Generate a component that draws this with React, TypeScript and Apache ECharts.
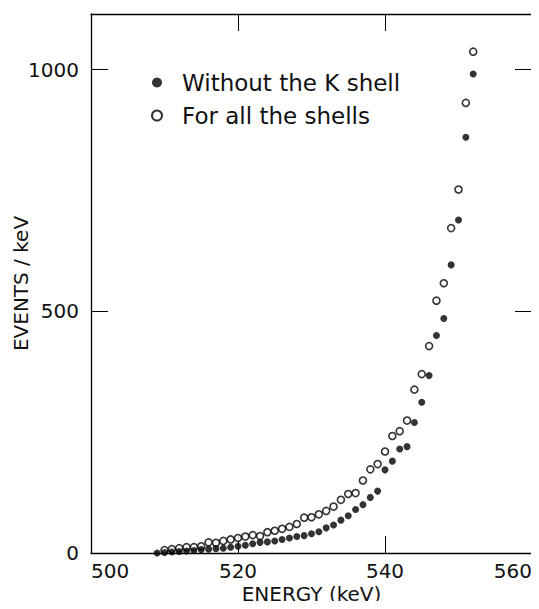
import React, { useEffect, useRef } from "react";
import * as echarts from "echarts";

// Energy (keV) of each point
const energyFilled = [
  509, 510, 511, 512, 513, 514, 515, 516, 517, 518, 519, 520, 521, 522, 523,
  524, 525, 526, 527, 528, 529, 530, 531, 532, 533, 534, 535, 536, 537, 538,
  539, 540, 541, 542, 543, 544, 545, 546, 547, 548, 549, 550, 551, 552,
];
// Without the K shell (events / keV)
const withoutK = [
  0, 1, 2, 3, 4, 5, 7, 8, 9, 10, 12, 14, 16, 19, 22, 23, 25, 28, 31, 34, 36,
  40, 44, 52, 58, 68, 77, 90, 100, 115, 128, 172, 190, 215, 220, 270, 312, 367,
  450, 485, 596, 689, 860, 991,
];

const energyOpen = [
  510, 511, 512, 513, 514, 515, 516, 517, 518, 519, 520, 521, 522, 523, 524,
  525, 526, 527, 528, 529, 530, 531, 532, 533, 534, 535, 536, 537, 538, 539,
  540, 541, 542, 543, 544, 545, 546, 547, 548, 549, 550, 551, 552,
];
// For all the shells (events / keV)
const allShells = [
  6, 8, 10, 12, 12, 14, 22, 21, 25, 28, 31, 34, 37, 35, 43, 46, 50, 54, 60, 73,
  74, 80, 87, 96, 110, 122, 124, 150, 173, 184, 210, 242, 252, 274, 338, 370,
  428, 522, 558, 672, 752, 931, 1037,
];

const xTicks = [500, 520, 540, 560];
const yTicks = [0, 500, 1000];

const seriesNames = ["Without the K shell", "For all the shells"];

const FONT = "DejaVu Sans";

export default function App() {
  const ref = useRef<HTMLDivElement>(null);

  useEffect(() => {
    if (!ref.current) return;
    const chart = echarts.init(ref.current, undefined, { renderer: "svg" });

    const axisLine = { show: true, onZero: false, lineStyle: { color: "#000", width: 1.3 } };
    const tick = { show: true, inside: true, length: 17, lineStyle: { color: "#000", width: 1 } };

    const xBase = {
      type: "value" as const,
      min: xTicks[0],
      max: xTicks[xTicks.length - 1],
      interval: 20,
      splitLine: { show: false },
      axisLine,
      axisTick: tick,
    };
    const yBase = {
      type: "value" as const,
      min: 0,
      max: 1115,
      interval: 500,
      splitLine: { show: false },
      axisLine,
      axisTick: tick,
    };

    chart.setOption({
      animation: false,
      backgroundColor: "#fff",
      textStyle: { fontFamily: FONT },
      grid: {
        left: 91,
        right: 7,
        top: 14,
        bottom: 56,
        containLabel: false,
        outerBoundsMode: "none",
      },
      legend: {
        data: seriesNames,
        orient: "vertical",
        left: 146,
        top: 66,
        itemWidth: 10,
        itemHeight: 10,
        itemGap: 10,
        icon: "circle",
        textStyle: {
          fontFamily: FONT,
          fontSize: 23,
          color: "#111",
          padding: [0, 0, 0, 15],
        },
        selectedMode: false,
      },
      xAxis: [
        {
          ...xBase,
          position: "bottom",
          name: "ENERGY (keV)",
          nameLocation: "middle",
          nameGap: 31,
          nameMoveOverlap: false,
          nameTextStyle: { fontFamily: FONT, fontSize: 20, color: "#111" },
          axisLabel: {
            show: true,
            fontFamily: FONT,
            fontSize: 20,
            color: "#111",
            margin: 8,
            alignMinLabel: "left",
            alignMaxLabel: "right",
            formatter: (v: number) => (xTicks.includes(v) ? String(v) : ""),
          },
        },
        { ...xBase, position: "top", axisLabel: { show: false } },
      ],
      yAxis: [
        {
          ...yBase,
          position: "left",
          name: "EVENTS / keV",
          nameLocation: "middle",
          nameGap: 60,
          nameMoveOverlap: false,
          nameTextStyle: { fontFamily: FONT, fontSize: 20, color: "#111" },
          axisLabel: {
            show: true,
            fontFamily: FONT,
            fontSize: 20,
            color: "#111",
            margin: 12,
            showMaxLabel: false,
            formatter: (v: number) => (yTicks.includes(v) ? String(v) : ""),
          },
        },
        { ...yBase, position: "right", axisLabel: { show: false } },
      ],
      series: [
        {
          name: seriesNames[1],
          type: "scatter",
          symbol: "circle",
          symbolSize: 7,
          itemStyle: { color: "#fff", borderColor: "#000", borderWidth: 1.6 },
          data: energyOpen.map((e, i) => [e, allShells[i]]),
          z: 2,
        },
        {
          name: seriesNames[0],
          type: "scatter",
          symbol: "circle",
          symbolSize: 7,
          itemStyle: { color: "#000" },
          data: energyFilled.map((e, i) => [e, withoutK[i]]),
          z: 3,
        },
      ],
    });

    return () => chart.dispose();
  }, []);

  return <div ref={ref} style={{ width: 539, height: 609, margin: -8 }} />;
}
